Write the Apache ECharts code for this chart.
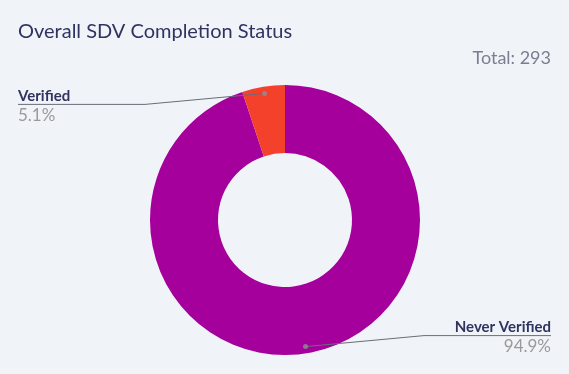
<!DOCTYPE html>
<html><head><meta charset="utf-8">
<script src="https://cdn.jsdelivr.net/npm/echarts@6/dist/echarts.min.js"></script>
<style>html,body{margin:0;padding:0;background:#f0f3f8;}#c{width:569px;height:374px;}</style>
</head><body><div id="c"></div>
<script>
const categories = ['Never Verified', 'Verified'];
const values = [278, 15];
const colors = ['#a5009c', '#f4412c'];
const titleText = 'Overall SDV Completion Status';
const total = values.reduce((a, b) => a + b, 0);

// slice midpoints (in value units) for the label-line anchor dots
const mids = [];
let acc = 0;
values.forEach(v => { mids.push(acc + v / 2); acc += v; });

const CX = 285, CY = 220, R_OUT = 135, R_IN = 67;
const EDGE_L = 18, EDGE_R = 551, SEG = 127;
const FONT = 'Lato';

const pieData = categories.map((c, i) => ({ name: c, value: values[i], itemStyle: { color: colors[i] } }));

const chart = echarts.init(document.getElementById('c'));
chart.setOption({
  backgroundColor: '#f0f3f8',
  animation: false,
  title: [
    { text: titleText, left: 13, top: 17,
      textStyle: { fontFamily: FONT, fontSize: 20, fontWeight: 'normal', color: '#2f3360' } },
    { text: 'Total: ' + total, right: 13, top: 44,
      textStyle: { fontFamily: FONT, fontSize: 18, fontWeight: 'normal', color: '#7b7e90' } }
  ],
  polar: { center: [CX, CY], radius: R_OUT },
  angleAxis: { type: 'value', min: 0, max: total, startAngle: 90, clockwise: true, show: false },
  radiusAxis: { type: 'value', min: 0, max: 1, show: false },
  series: [{
    type: 'pie',
    center: [CX, CY],
    radius: [R_IN, R_OUT],
    startAngle: 90,
    clockwise: true,
    z: 2,
    silent: true,
    label: { show: false },
    labelLine: { show: false },
    data: pieData,
    emphasis: { disabled: true }
  }, {
    type: 'pie',
    center: [CX, CY],
    radius: [R_IN, R_OUT],
    startAngle: 90,
    clockwise: true,
    z: 4,
    silent: true,
    itemStyle: { color: 'rgba(0,0,0,0)' },
    data: categories.map((c, i) => ({ name: c, value: values[i], itemStyle: { color: 'rgba(0,0,0,0)' } })),
    label: {
      formatter: p => '{n|' + p.name + '}\n{p|' + p.percent.toFixed(1) + '%}',
      rich: {
        n: { fontFamily: FONT, fontSize: 15, fontWeight: 'bold', color: '#2f3360', lineHeight: 16 },
        p: { fontFamily: FONT, fontSize: 17, color: '#9a9a9a', lineHeight: 22 }
      }
    },
    labelLine: { show: true, length: 10, length2: 10, lineStyle: { color: '#6a6d78', width: 1 } },
    labelLayout: function (p) {
      const pts = p.labelLinePoints;
      const e = pts[0];
      const s = [CX + (e[0] - CX) * 0.95, CY + (e[1] - CY) * 0.95];
      const left = e[0] < CX;
      const lineY = s[1] + (left ? 11 : -11);
      const endX = left ? EDGE_L : EDGE_R;
      const bendX = left ? EDGE_L + SEG : EDGE_R - SEG;
      return {
        x: endX,
        y: lineY - 16,
        align: left ? 'left' : 'right',
        verticalAlign: 'top',
        labelLinePoints: [s, [bendX, lineY], [endX, lineY]]
      };
    },
    emphasis: { disabled: true }
  }, {
    type: 'scatter',
    coordinateSystem: 'polar',
    z: 6,
    symbolSize: 5,
    itemStyle: { color: '#8f8f95' },
    silent: true,
    data: mids.map(m => [0.95, m])
  }]
});
</script></body></html>
